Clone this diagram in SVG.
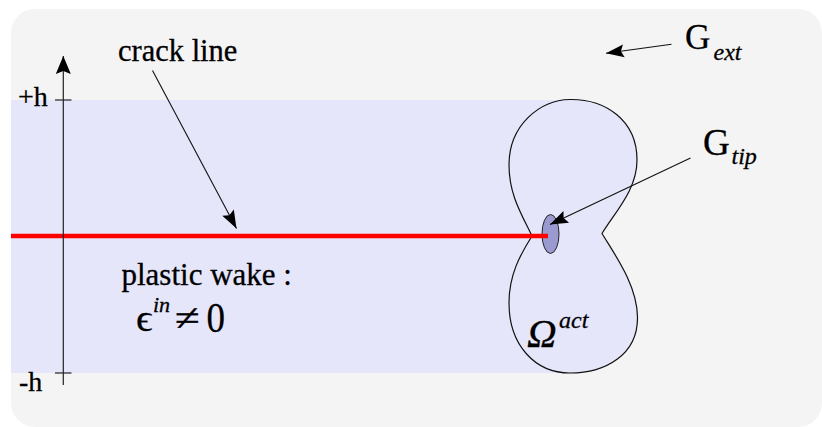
<svg xmlns="http://www.w3.org/2000/svg" width="822" height="427" viewBox="0 0 822 427">
<style>
  .it { font-style: italic; }
  .ln { stroke: #111; stroke-width: 1.1; fill: none; }
  .ax { stroke: #222; stroke-width: 1.2; fill: none; }
  .txt text { stroke: #000; stroke-width: 0.3; }
</style>
<defs>
  <marker id="ah" markerUnits="userSpaceOnUse" markerWidth="20" markerHeight="16" viewBox="-19 -8 20 16" refX="0" refY="0" orient="auto">
    <path d="M0,0 L-18,-6.5 L-15,0 L-18,6.5 Z" fill="#000"/>
  </marker>
  <marker id="ah2" markerUnits="userSpaceOnUse" markerWidth="20" markerHeight="18" viewBox="-19 -9 20 18" refX="0" refY="0" orient="auto">
    <path d="M0,0 L-18,-7.5 L-15,0 L-18,7.5 Z" fill="#000"/>
  </marker>
</defs>

<g id="background">
  <rect x="11" y="9" width="811" height="418" rx="24" ry="24" fill="#f4f4f4"/>
  <rect x="11" y="100" width="560" height="273" fill="#e6e6fb"/>
</g>

<g class="txt" style="font-family:'Liberation Serif','DejaVu Serif',serif" fill="#000">
<g id="active-zone">
  <path d="M570,99.5 C605,99 637,120 637,160 C637,190 615,212 602,233.5 C615,255 637,285 637.5,317 C638,355 605,373 570,373 C535,373 509,345 509,303 C509,275 520,255 532,236 C522,215 509,195 509,165 C509,125 540,100 570,99.5 Z" fill="#e6e6fb" stroke="#111" stroke-width="1.2"/>
  <text class="it" x="527" y="347" font-size="41">Ω</text>
  <text class="it" x="559" y="327.5" font-size="24">act</text>
</g>

<g id="tip-zone">
  <ellipse cx="550.5" cy="234" rx="8.5" ry="19.5" fill="#9a9ad0" stroke="#222" stroke-width="1"/>
</g>

<g id="crack">
  <line x1="11" y1="236" x2="548" y2="236" stroke="#ff0000" stroke-width="4.5"/>
</g>

<g id="axis">
  <line class="ax" x1="63.3" y1="385" x2="63.3" y2="56" marker-end="url(#ah2)"/>
  <line class="ax" x1="55" y1="100" x2="71.5" y2="100"/>
  <line class="ax" x1="55" y1="373" x2="71.5" y2="373"/>
  <text x="18" y="106" font-size="28">+h</text>
  <text x="19" y="391" font-size="28">-h</text>
</g>

<g id="label-crack-line">
  <text x="118" y="61" font-size="30.5">crack line</text>
</g>

<g id="label-plastic-wake">
  <text x="121.5" y="285" font-size="31">plastic wake :</text>
  <text x="136" y="331" font-size="38" textLength="16.5" lengthAdjust="spacingAndGlyphs">ϵ</text>
  <text class="it" x="153" y="312" font-size="22">in</text>
  <text x="175" y="330" font-size="36" textLength="25" lengthAdjust="spacingAndGlyphs">≠</text>
  <text x="206.5" y="331.5" font-size="43" textLength="18.5" lengthAdjust="spacingAndGlyphs">0</text>
</g>

<g id="label-G-ext">
  <text x="685" y="48.5" font-size="35">G</text>
  <text class="it" x="713.5" y="59.5" font-size="24">ext</text>
</g>

<g id="label-G-tip">
  <text x="703" y="155" font-size="37">G</text>
  <text class="it" x="731.5" y="163.5" font-size="24">tip</text>
</g>
</g>

<g id="connectors">
  <line class="ln" x1="152.5" y1="70.5" x2="236.5" y2="228.5" marker-end="url(#ah)"/>
  <line class="ln" x1="690.5" y1="158" x2="550" y2="224.5" marker-end="url(#ah)"/>
  <line class="ln" x1="671.5" y1="44.3" x2="606" y2="53.3" marker-end="url(#ah)"/>
</g>
</svg>
